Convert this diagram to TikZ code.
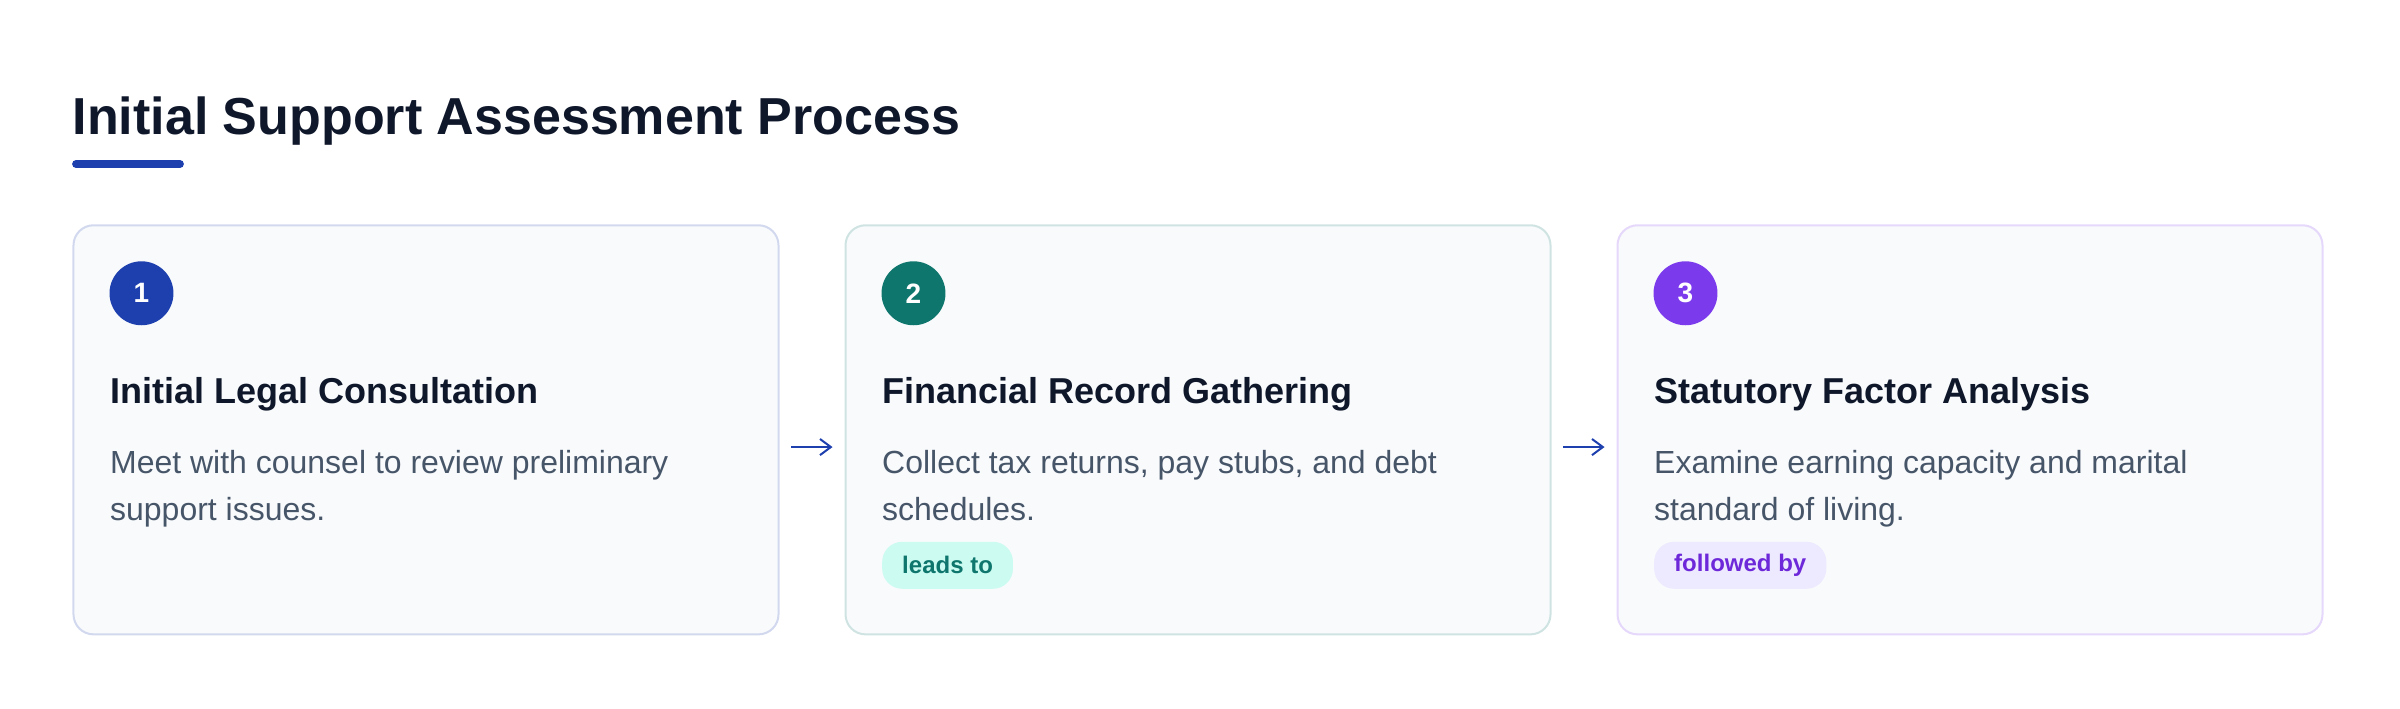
\documentclass[tikz,border=0pt]{standalone}
\usepackage{fontspec}
\setmainfont{Liberation Sans}
\usetikzlibrary{arrows.meta}

\definecolor{ink}{HTML}{0F172A}
\definecolor{muted}{HTML}{475569}
\definecolor{cardbg}{HTML}{F8FAFC}
\definecolor{blueacc}{HTML}{1E40AF}
\definecolor{tealacc}{HTML}{0F766E}
\definecolor{violetacc}{HTML}{7C3AED}
\definecolor{blueline}{HTML}{D2D9EF}
\definecolor{tealline}{HTML}{CFE4E2}
\definecolor{violetline}{HTML}{E5D8FB}
\definecolor{tealpill}{HTML}{CCFBF1}
\definecolor{violetpill}{HTML}{EDE9FE}
\definecolor{violettext}{HTML}{6D28D9}

\tikzset{
	card/.style={draw=#1, fill=cardbg, line width=0.57pt, rounded corners=5.7pt, minimum width=200.6pt, minimum height=116.4pt, inner sep=0pt},
	stepnum/.style={circle, fill=#1, text=white, minimum size=18.2pt, inner sep=0pt, font=\fontsize{7.97pt}{9pt}\selectfont\bfseries},
	heading/.style={anchor=base west, inner sep=0pt, text=ink, font=\fontsize{10.24pt}{12pt}\selectfont\bfseries},
	blurb/.style={anchor=base west, inner sep=0pt, align=left, text=muted, font=\fontsize{9.1pt}{13.37pt}\selectfont},
	pill/.style={anchor=west, fill=#1, rounded corners=5.7pt, minimum height=13.37pt, inner xsep=5.7pt, inner ysep=0pt, font=\fontsize{6.83pt}{8pt}\selectfont\bfseries},
	flow/.style={-{Straight Barb[length=3.1pt,width=4.6pt]}, draw=blueacc, line width=0.57pt, shorten <=3.4pt, shorten >=3.4pt},
}

\begin{document}
\begin{tikzpicture}[x=0.28453pt, y=-0.28453pt]
	\useasboundingbox (0,0) rectangle (2400,708);
	
	\node[anchor=base west, inner sep=0pt, text=ink, font=\fontsize{14.8pt}{17pt}\selectfont\bfseries] (title) at (72,134) {Initial Support Assessment Process};
	\draw[blueacc, line width=2.2pt, line cap=round] (76,164) -- (180,164);
	
	\node[card=blueline] (step1) at (426,429.8) {};
	\node[card=tealline] (step2) at (1198,429.8) {};
	\node[card=violetline] (step3) at (1970,429.8) {};
	
	\node[stepnum=blueacc] (num1) at ([shift={(69,69)}]step1.north west) {1};
	\node[stepnum=tealacc] (num2) at ([shift={(69,69)}]step2.north west) {2};
	\node[stepnum=violetacc] (num3) at ([shift={(69,69)}]step3.north west) {3};
	
	\node[heading] (head1) at ([shift={(37,179.3)}]step1.north west) {Initial Legal Consultation};
	\node[heading] (head2) at ([shift={(37,179.3)}]step2.north west) {Financial Record Gathering};
	\node[heading] (head3) at ([shift={(37,179.3)}]step3.north west) {Statutory Factor Analysis};
	
	% base anchor sits on the last line
	\node[blurb] (text1) at ([shift={(37,296.3)}]step1.north west) {Meet with counsel to review preliminary\\support issues.};
	\node[blurb] (text2) at ([shift={(37,296.3)}]step2.north west) {Collect tax returns, pay stubs, and debt\\schedules.};
	\node[blurb] (text3) at ([shift={(37,296.3)}]step3.north west) {Examine earning capacity and marital\\standard of living.};
	
	\node[pill=tealpill, text=tealacc] (tag2) at ([shift={(37,341)}]step2.north west) {leads to};
	\node[pill=violetpill, text=violettext] (tag3) at ([shift={(37,341)}]step3.north west) {followed by};
	
	\draw[flow] ([yshift=-4.9pt]step1.east) -- ([yshift=-4.9pt]step2.west);
	\draw[flow] ([yshift=-4.9pt]step2.east) -- ([yshift=-4.9pt]step3.west);
\end{tikzpicture}
\end{document}
